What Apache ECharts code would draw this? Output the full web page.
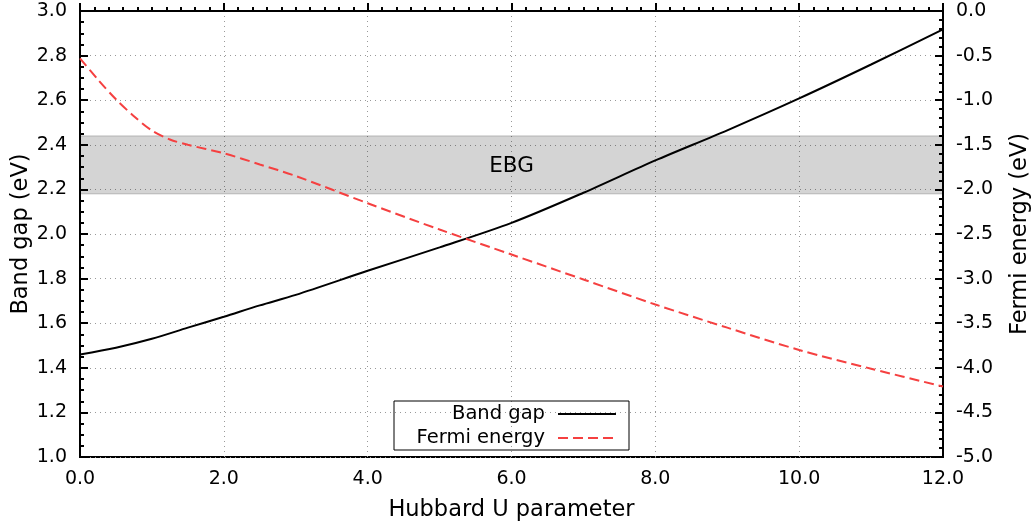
<!DOCTYPE html>
<html>
<head>
<meta charset="utf-8">
<script src="https://cdn.jsdelivr.net/npm/echarts@6/dist/echarts.min.js"></script>
<style>
html,body{margin:0;padding:0;background:#fff;}
#chart{width:1034px;height:524px;}
</style>
</head>
<body>
<div id="chart"></div>
<script>
// Data
const bandGapU = [0, 0.5, 1.0, 1.5, 2.0, 2.5, 3.0, 4.0, 5.0, 6.0, 7.0, 8.0, 9.0, 10.0, 11.0, 12.0];
const bandGap  = [1.46, 1.49, 1.53, 1.58, 1.629, 1.68, 1.727, 1.835, 1.94, 2.05, 2.185, 2.33, 2.465, 2.608, 2.76, 2.918];
const fermiU   = [0, 0.25, 0.5, 0.75, 1.0, 1.25, 1.5, 2.0, 2.5, 3.0, 4.0, 5.0, 6.0, 7.0, 8.0, 9.0, 10.0, 11.0, 12.0];
const fermi    = [-0.53, -0.77, -0.99, -1.18, -1.34, -1.44, -1.50, -1.595, -1.72, -1.85, -2.155, -2.45, -2.73, -3.01, -3.29, -3.55, -3.80, -4.01, -4.21];
const ebgRange = [2.18, 2.44];
const ebgLabel = 'EBG';
const seriesNames = ['Band gap', 'Fermi energy'];
const xTitle = 'Hubbard U parameter';
const yLeftTitle = 'Band gap (eV)';
const yRightTitle = 'Fermi energy (eV)';

const FONT = 'DejaVu Sans';
const chart = echarts.init(document.getElementById('chart'), null, {renderer: 'canvas'});

const tickStyle = {show: true, inside: true, length: 8, lineStyle: {color: '#000', width: 2}};
const minorStyle = {show: true, length: 4, lineStyle: {color: '#000', width: 2}};
const gridLine = {show: true, lineStyle: {type: [1, 4], color: '#999', width: 1}};

chart.setOption({
  animation: false,
  backgroundColor: '#fff',
  grid: {left: 80, right: 91, top: 11, bottom: 67, show: true, borderColor: '#000', borderWidth: 2, backgroundColor: 'transparent', outerBoundsMode: 'none'},
  legend: {
    left: 394, top: 401, orient: 'vertical', align: 'right',
    data: seriesNames,
    borderColor: '#000', borderWidth: 1, borderRadius: 0,
    padding: [3, 12, 2, 10],
    itemGap: 4, itemWidth: 58, itemHeight: 14,
    selectedMode: false,
    itemStyle: {opacity: 0},
    textStyle: {fontFamily: FONT, fontSize: 19.5, color: '#000', width: 141, align: 'right', lineHeight: 20, padding: [0, 8, 0, 0]}
  },
  xAxis: {
    type: 'value', min: 0, max: 12, interval: 2,
    name: xTitle, nameLocation: 'middle', nameGap: 42, nameMoveOverlap: false,
    nameTextStyle: {fontFamily: FONT, fontSize: 22.5, color: '#000'},
    axisLine: {lineStyle: {color: '#000', width: 2}},
    axisTick: tickStyle,
    minorTick: Object.assign({splitNumber: 10}, minorStyle),
    axisLabel: {fontFamily: FONT, fontSize: 19, color: '#000', margin: 13, formatter: v => v.toFixed(1)},
    splitLine: gridLine
  },
  yAxis: [{
    type: 'value', min: 1.0, max: 3.0, interval: 0.2, position: 'left',
    name: yLeftTitle, nameLocation: 'middle', nameGap: 47, nameMoveOverlap: false,
    nameTextStyle: {fontFamily: FONT, fontSize: 22.5, color: '#000'},
    axisLine: {show: true, lineStyle: {color: '#000', width: 2}},
    axisTick: tickStyle,
    minorTick: Object.assign({splitNumber: 4}, minorStyle),
    axisLabel: {fontFamily: FONT, fontSize: 19, color: '#000', margin: 13, formatter: v => v.toFixed(1)},
    splitLine: gridLine
  }, {
    type: 'value', min: -5.0, max: 0.0, interval: 0.5, position: 'right',
    name: yRightTitle, nameLocation: 'middle', nameGap: 66, nameMoveOverlap: false,
    nameTextStyle: {fontFamily: FONT, fontSize: 22.5, color: '#000'},
    axisLine: {show: true, lineStyle: {color: '#000', width: 2}},
    axisTick: tickStyle,
    minorTick: Object.assign({splitNumber: 5}, minorStyle),
    axisLabel: {fontFamily: FONT, fontSize: 19, color: '#000', margin: 13, formatter: v => v.toFixed(1)},
    splitLine: {show: false}
  }],
  series: [{
    name: seriesNames[0], type: 'line', yAxisIndex: 0,
    data: bandGapU.map((u, i) => [u, bandGap[i]]),
    symbol: 'none', smooth: 0.3,
    lineStyle: {color: '#000', width: 2},
    itemStyle: {color: '#000'},
    z: 3,
    markArea: {
      silent: true,
      itemStyle: {color: 'rgba(0,0,0,0.17)', borderColor: 'rgba(0,0,0,0.22)', borderWidth: 1},
      label: {show: true, position: 'inside', fontFamily: FONT, fontSize: 21.5, color: '#000', offset: [0, 2]},
      data: [[{yAxis: ebgRange[0], name: ebgLabel}, {yAxis: ebgRange[1]}]]
    }
  }, {
    name: seriesNames[1], type: 'line', yAxisIndex: 1,
    data: fermiU.map((u, i) => [u, fermi[i]]),
    symbol: 'none', smooth: 0.3,
    lineStyle: {color: '#f54040', width: 2, type: [10, 5]},
    itemStyle: {color: '#f54040'},
    z: 3
  }]
});
</script>
</body>
</html>
